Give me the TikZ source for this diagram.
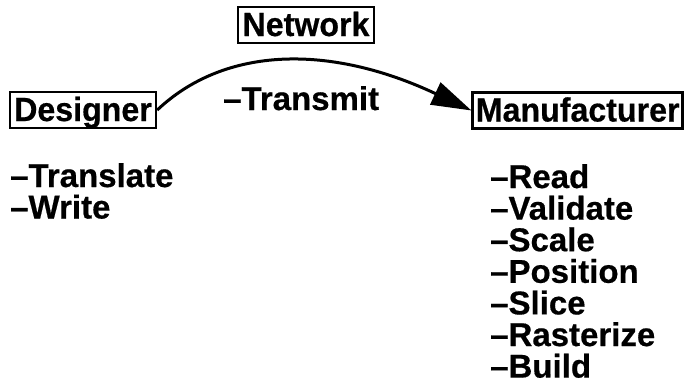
\documentclass[tikz,border=0pt]{standalone}
\usepackage{fontspec}
\setmainfont{Liberation Sans}[FakeBold=0.5]
\newfontfamily\boxfont[FakeStretch=0.96,FakeBold=0.5]{Liberation Sans}
\usetikzlibrary{arrows.meta}
\tikzset{
  boxnode/.style={draw, line width=2.5pt, inner sep=0pt, inner ysep=3pt,
    text height=26pt, text depth=4pt,
    font=\boxfont\bfseries\fontsize{33.5}{36}\selectfont},
  itemtext/.style={anchor=base west, inner sep=0pt,
    font=\bfseries\fontsize{33}{36}\selectfont},
  link/.style={line width=3pt, -{Triangle[length=40pt,width=24pt]}}
}
\begin{document}
\begin{tikzpicture}[x=1pt,y=-1pt]
\useasboundingbox (0,0) rectangle (685,389);
\node[boxnode, minimum width=146pt] (designer) at (83,110) {Designer};
\node[boxnode, minimum width=136pt] (network) at (306,25) {Network};
\node[boxnode, minimum width=210pt] (manu) at (577.7,110.5) {Manufacturer};
\draw[link] (designer.east) .. controls (225,46) and (330,44) .. (manu.west);
\node[itemtext] (transmit) at (223,110) {–Transmit};
\node[itemtext] (translate) at (10,187) {–Translate};
\node[itemtext] (write) at (10,218.5) {–Write};
\foreach \t [count=\i from 0] in {Read,Validate,Scale,Position,Slice,Rasterize,Build}{
  \node[itemtext] (r\i) at (490,188+31.6*\i) {–\t};
}
\end{tikzpicture}
\end{document}
